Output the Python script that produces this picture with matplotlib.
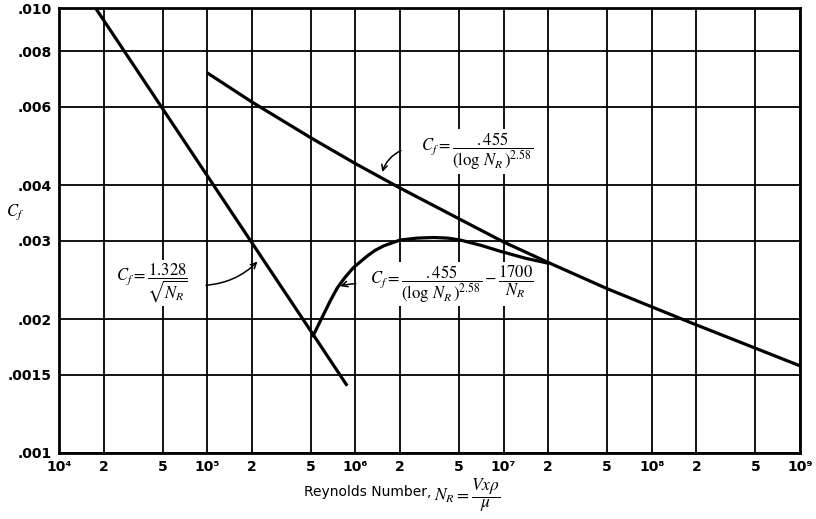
import matplotlib
matplotlib.use("Agg")
import matplotlib.pyplot as plt

plt.rcParams['mathtext.fontset'] = 'stix'

# laminar (Blasius) line
laminar_re = [1.76e4, 2e4, 5e4, 1e5, 2e5, 5e5, 8.8e5]
laminar_cf = [0.01001, 0.00939, 0.00594, 0.00420, 0.00297, 0.00188, 0.001416]

# turbulent (Schlichting) line
turb_re = [1e5, 2e5, 5e5, 1e6, 2e6, 5e6, 1e7, 2e7, 5e7, 1e8, 2e8, 5e8, 1e9]
turb_cf = [0.00715, 0.00615, 0.00511, 0.00447, 0.00394, 0.00336, 0.00298,
           0.00268, 0.00234, 0.00213, 0.00194, 0.00172, 0.00157]

# transition curve
trans_re = [5.12e5, 6.78e5, 7.55e5, 8.5e5, 9.7e5, 1.2e6, 1.35e6, 1.55e6, 2e6,
            2.6e6, 3.37e6, 4.2e6, 5.1e6, 7e6, 9.5e6, 1.4e7, 2e7]
trans_cf = [0.00182, 0.00220, 0.00235, 0.00248, 0.00261, 0.00277, 0.00285,
            0.00292, 0.00301, 0.00304, 0.00305, 0.00304, 0.00301, 0.00293,
            0.00284, 0.00274, 0.00267]

x_ticks = [1e4, 2e4, 5e4, 1e5, 2e5, 5e5, 1e6, 2e6, 5e6, 1e7, 2e7, 5e7,
           1e8, 2e8, 5e8, 1e9]
x_labels = ['10⁴', '2', '5', '10⁵', '2', '5', '10⁶', '2', '5', '10⁷', '2', '5',
            '10⁸', '2', '5', '10⁹']
y_ticks = [0.001, 0.0015, 0.002, 0.003, 0.004, 0.006, 0.008, 0.010]
y_labels = ['.001', '.0015', '.002', '.003', '.004', '.006', '.008', '.010']

fig = plt.figure(figsize=(8.16, 5.19), dpi=100)
ax = fig.add_axes([59/816, 1 - 453/519, 741/816, 445/519])

ax.set_xscale('log')
ax.set_yscale('log')
ax.set_xlim(1e4, 1e9)
ax.set_ylim(0.001, 0.010)

for xs, ys in [(laminar_re, laminar_cf), (turb_re, turb_cf), (trans_re, trans_cf)]:
    ax.plot(xs, ys, color='black', lw=2.3, solid_capstyle='butt',
            solid_joinstyle='round', zorder=3)

ax.set_xticks(x_ticks)
ax.set_xticklabels(x_labels, fontsize=10, fontweight='bold')
ax.set_yticks(y_ticks)
ax.set_yticklabels(y_labels, fontsize=10, fontweight='bold')
ax.minorticks_off()
ax.tick_params(length=0, pad=5)
ax.grid(True, color='black', lw=1.3)
ax.set_axisbelow(True)
for s in ax.spines.values():
    s.set_linewidth(2)

# x axis title, plain part and formula part
fig.text(431/816, 1 - 492/519, 'Reynolds Number,', fontsize=10,
         ha='right', va='center')
fig.text(434/816, 1 - 495/519, r'$N_R = \dfrac{Vx\rho}{\mu}$', fontsize=12.5,
         ha='left', va='center')
fig.text(15/816, 1 - 212/519, r'$C_f$', fontsize=12, ha='center', va='center')

box = dict(facecolor='white', edgecolor='none', pad=1)
arrow = dict(arrowstyle='->', color='black', lw=1.1)

# laminar label
ax.text(4.25e4, 0.00241, r'$C_f = \dfrac{1.328}{\sqrt{N_R}}$', fontsize=12,
        ha='center', va='center', bbox=box, zorder=4)
ax.annotate('', xy=(2.25e5, 0.00272), xytext=(9.4e4, 0.00238),
            arrowprops=dict(arrow, connectionstyle='arc3,rad=0.2'), zorder=4)

# turbulent label
ax.text(6.6e6, 0.00476, r'$C_f = \dfrac{.455}{(\log\,N_R\,)^{2.58}}$', fontsize=12,
        ha='center', va='center', bbox=box, zorder=4)
ax.annotate('', xy=(1.5e6, 0.00422), xytext=(2.11e6, 0.00481),
            arrowprops=dict(arrow, connectionstyle='arc3,rad=0.25'), zorder=4)

# transition label
ax.text(4.46e6, 0.00240, r'$C_f = \dfrac{.455}{(\log\,N_R\,)^{2.58}} - \dfrac{1700}{N_R}$',
        fontsize=12, ha='center', va='center', bbox=box, zorder=4)
ax.annotate('', xy=(7.6e5, 0.00236), xytext=(1.05e6, 0.00240),
            arrowprops=dict(arrow, connectionstyle='arc3,rad=0.1'), zorder=4)

fig.savefig('out.png', dpi=100)
